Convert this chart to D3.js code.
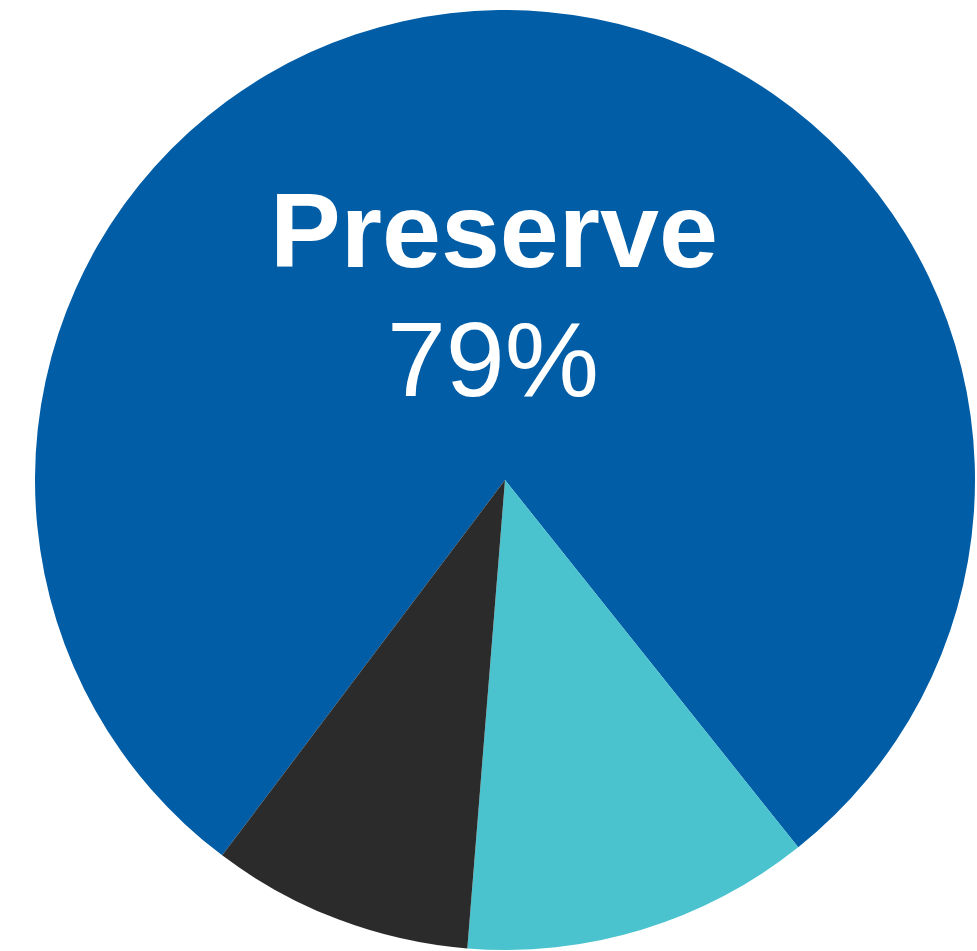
<!DOCTYPE html>
<html>
<head>
<meta charset="utf-8">
<script src="https://cdn.jsdelivr.net/npm/d3@7"></script>
<style>
  html, body { margin: 0; padding: 0; background: #fff; overflow: hidden; }
</style>
</head>
<body>
<script>
// slice data, in drawing order (clockwise)
var labels = ['Preserve', 'Other A', 'Other B'];
var values = [79, 12, 9];
var colors = ['#005da6', '#4bc3cf', '#2b2b2b'];

var W = 977, H = 951;
var cx = 505, cy = 480, R = 470;

var svg = d3.select('body').append('svg').attr('width', W).attr('height', H);
var g = svg.append('g').attr('transform', 'translate(' + cx + ',' + cy + ')');

var startDeg = -143;
var pie = d3.pie().sort(null).value(function(d){ return d; })
    .startAngle(startDeg * Math.PI / 180)
    .endAngle((startDeg + 360) * Math.PI / 180);
var arc = d3.arc().innerRadius(0).outerRadius(R);

var color = d3.scaleOrdinal().domain(labels).range(colors);

g.selectAll('path').data(pie(values)).enter().append('path')
    .attr('d', arc)
    .attr('fill', function(d, i){ return color(labels[i]); });

// label for the big slice
g.append('text').attr('x', -11).attr('y', 267 - cy)
    .attr('text-anchor', 'middle')
    .style('font-family', '"Liberation Sans", Arial, sans-serif')
    .style('font-weight', 'bold').style('font-size', '106px')
    .attr('fill', '#fff').text(labels[0]);
g.append('text').attr('x', -12).attr('y', 396 - cy)
    .attr('text-anchor', 'middle')
    .style('font-family', '"Liberation Sans", Arial, sans-serif')
    .style('font-size', '106px')
    .attr('fill', '#fff').text(values[0] + '%');
</script>
</body>
</html>
